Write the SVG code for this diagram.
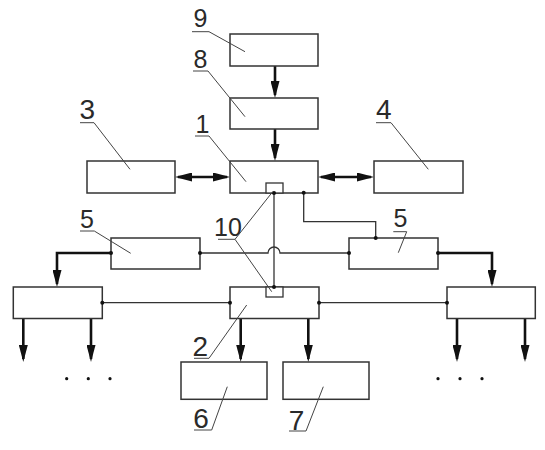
<svg xmlns="http://www.w3.org/2000/svg" width="545" height="450" viewBox="0 0 545 450">
<defs>
<style>
.box{fill:#fff;stroke:#333;stroke-width:1.5}
.sbox{fill:#fff;stroke:#333;stroke-width:1.3}
.ln{fill:none;stroke:#333;stroke-width:1.3}
.thk{fill:none;stroke:#111;stroke-width:2.6}
.ldr{fill:none;stroke:#444;stroke-width:1}
.dot{fill:#111}
.lab{font-family:"Liberation Sans",Arial,sans-serif;font-size:25px;fill:#2a2a2a;text-anchor:middle}
.big{font-size:28px}
</style>
<marker id="ah" markerUnits="userSpaceOnUse" viewBox="0 0 17 9" markerWidth="17" markerHeight="9" refX="14" refY="4.5" orient="auto-start-reverse">
<path d="M0,0 L17,4.5 L0,9 z" fill="#111"/>
</marker>
</defs>

<g id="connectors">
<path class="thk" d="M275,66 V95" marker-end="url(#ah)"/>
<path class="thk" d="M275,129 V158" marker-end="url(#ah)"/>
<path class="thk" d="M178,177 H227" marker-start="url(#ah)" marker-end="url(#ah)"/>
<path class="thk" d="M321,177 H371" marker-start="url(#ah)" marker-end="url(#ah)"/>
<path class="ln" d="M274,193 V287"/>
<path class="ln" d="M303.7,192.7 V221.7 H375.7 V238"/>
<path class="ln" d="M200,253 H268 A6,6 0 0 1 280,253 H349"/>
<path class="thk" d="M111,253 H57 V284" marker-end="url(#ah)"/>
<path class="thk" d="M438,253 H492 V284" marker-end="url(#ah)"/>
<path class="ln" d="M102.3,302.7 H230"/>
<path class="ln" d="M319,302.7 H447"/>
<path class="thk" d="M240.7,319 V359" marker-end="url(#ah)"/>
<path class="thk" d="M308.3,319 V359" marker-end="url(#ah)"/>
<path class="thk" d="M23.3,319 V359" marker-end="url(#ah)"/>
<path class="thk" d="M91,319 V359" marker-end="url(#ah)"/>
<path class="thk" d="M457,319 V359" marker-end="url(#ah)"/>
<path class="thk" d="M525,319 V359" marker-end="url(#ah)"/>
</g>

<g id="node9"><rect class="box" x="230" y="34" width="88" height="32"/></g>
<g id="node8"><rect class="box" x="230" y="98" width="88" height="31"/></g>
<g id="node1"><rect class="box" x="230" y="161" width="88" height="32"/><rect class="sbox" x="266" y="183" width="17" height="10"/></g>
<g id="node3"><rect class="box" x="87" y="161" width="88" height="32"/></g>
<g id="node4"><rect class="box" x="374" y="161" width="89" height="32"/></g>
<g id="node5a"><rect class="box" x="111" y="238" width="89" height="31"/></g>
<g id="node5b"><rect class="box" x="349" y="238" width="89" height="31"/></g>
<g id="node2"><rect class="box" x="230" y="287" width="89" height="31.5"/><rect class="sbox" x="266" y="287" width="17" height="10"/></g>
<g id="nodeL"><rect class="box" x="13.3" y="287" width="89" height="31.5"/></g>
<g id="nodeR"><rect class="box" x="447" y="287" width="88.3" height="31.5"/></g>
<g id="node6"><rect class="box" x="181" y="362" width="86" height="37.3"/></g>
<g id="node7"><rect class="box" x="283" y="362" width="86" height="37.3"/></g>

<g id="dots">
<circle class="dot" cx="274" cy="193" r="2"/>
<circle class="dot" cx="274" cy="287" r="2"/>
<circle class="dot" cx="303.7" cy="192.7" r="2"/>
<circle class="dot" cx="375.7" cy="238" r="2"/>
<circle class="dot" cx="111" cy="253" r="2"/>
<circle class="dot" cx="200" cy="253" r="2"/>
<circle class="dot" cx="349" cy="253" r="2"/>
<circle class="dot" cx="438" cy="253" r="2"/>
<circle class="dot" cx="102.3" cy="302.7" r="2"/>
<circle class="dot" cx="230" cy="302.7" r="2"/>
<circle class="dot" cx="319" cy="302.7" r="2"/>
<circle class="dot" cx="447" cy="302.7" r="2"/>
<circle class="dot" cx="66.7" cy="378.7" r="1.6"/>
<circle class="dot" cx="88.3" cy="378.7" r="1.6"/>
<circle class="dot" cx="110" cy="378.7" r="1.6"/>
<circle class="dot" cx="438" cy="378.7" r="1.6"/>
<circle class="dot" cx="460" cy="378.7" r="1.6"/>
<circle class="dot" cx="482" cy="378.7" r="1.6"/>
</g>

<g id="labels">
<text class="lab" x="200.5" y="27.3">9</text>
<path class="ldr" d="M192,31.7 H209 L245,51.7"/>
<text class="lab" x="200.5" y="68.3">8</text>
<path class="ldr" d="M193,71 H208 L245,116.7"/>
<text class="lab" x="202.5" y="133.3">1</text>
<path class="ldr" d="M195,136 H209 L246,181.7"/>
<text class="lab big" x="87.3" y="119.3">3</text>
<path class="ldr" d="M80,122.7 H94 L130,169.3"/>
<text class="lab big" x="383.7" y="119">4</text>
<path class="ldr" d="M376,122.7 H391 L428.3,169.3"/>
<text class="lab" x="87" y="228.3">5</text>
<path class="ldr" d="M80,231 H94.3 L130.7,253.3"/>
<text class="lab" x="400.5" y="227.3">5</text>
<path class="ldr" d="M393.3,231.7 H406.7 L398.3,252.7"/>
<text class="lab" x="228" y="236">10</text>
<path class="ldr" d="M218,239.3 H235 L272.7,191.7 M235,239.3 L271.7,291.7"/>
<text class="lab big" x="200.3" y="356">2</text>
<path class="ldr" d="M194,358.3 H209 L246.7,305"/>
<text class="lab big" x="201" y="428">6</text>
<path class="ldr" d="M194,430 H211.7 L227.3,386.7"/>
<text class="lab big" x="296.5" y="430">7</text>
<path class="ldr" d="M289,431 H306 L323.3,386.7"/>
</g>
</svg>
